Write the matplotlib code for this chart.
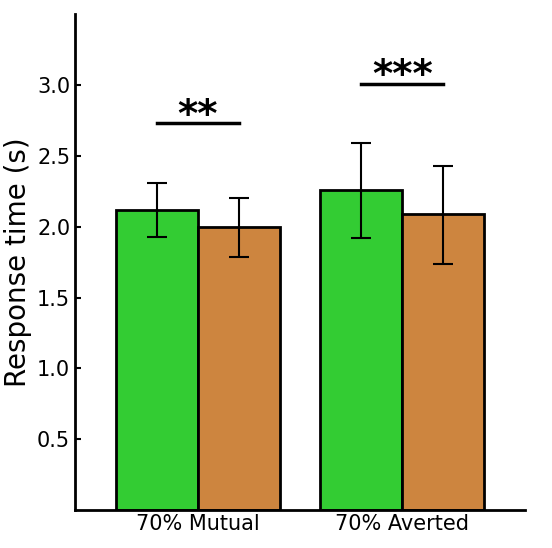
import matplotlib
matplotlib.use("Agg")
import matplotlib.pyplot as plt
import numpy as np

groups = ["70% Mutual", "70% Averted"]
green_means = [2.12, 2.26]
green_err_lo = [0.19, 0.34]
green_err_hi = [0.19, 0.33]
orange_means = [2.00, 2.09]
orange_err_lo = [0.21, 0.35]
orange_err_hi = [0.20, 0.34]
sig_levels = [2.73, 3.01]
sig_labels = ["**", "***"]

fig = plt.figure(figsize=(5.52, 5.48), dpi=100)
ax = fig.add_axes([0.136, 0.069, 0.815, 0.905])

x = np.arange(len(groups))
w = 0.4
ax.bar(x - w / 2, green_means, w, color="#33cc33", edgecolor="black", linewidth=2,
       yerr=[green_err_lo, green_err_hi], capsize=7, error_kw=dict(elinewidth=1.5, capthick=1.5))
ax.bar(x + w / 2, orange_means, w, color="#cd853f", edgecolor="black", linewidth=2,
       yerr=[orange_err_lo, orange_err_hi], capsize=7, error_kw=dict(elinewidth=1.5, capthick=1.5))

# significance bars
for xi, level, lab in zip(x, sig_levels, sig_labels):
    ax.plot([xi - 0.2, xi + 0.2], [level, level], color="black", linewidth=2.5)
    ax.text(xi, level - 0.08, lab, ha="center", va="bottom", fontsize=28, fontweight="bold")

ax.set_xlim(-0.6, 1.6)
ax.set_ylim(0, 3.5)
ax.set_yticks([0.5, 1.0, 1.5, 2.0, 2.5, 3.0])
ax.set_xticks(x)
ax.set_xticklabels(groups, fontsize=15)
ax.tick_params(axis="y", labelsize=15, direction="in", length=4, width=1.5)
ax.tick_params(axis="x", length=0, pad=3)
ax.set_ylabel("Response time (s)", fontsize=20, labelpad=4)

for s in ["top", "right"]:
    ax.spines[s].set_visible(False)
for s in ["left", "bottom"]:
    ax.spines[s].set_linewidth(2)

fig.savefig("out.png", dpi=100)
